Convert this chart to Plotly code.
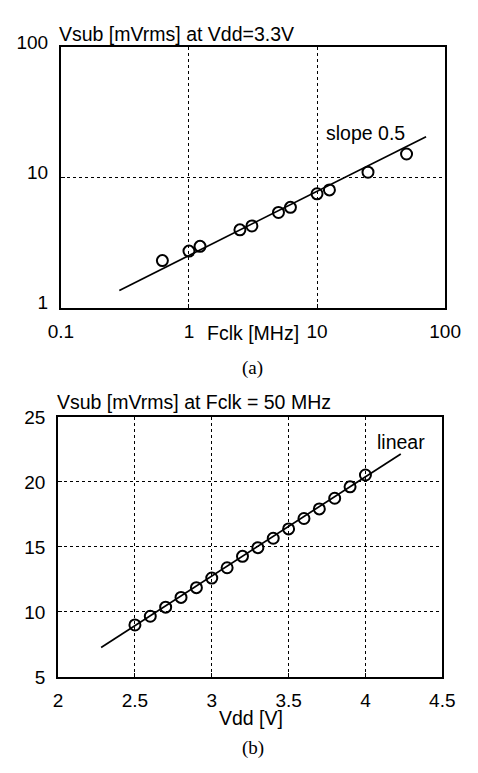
import plotly.graph_objects as go

# ---- panel (a): Vsub vs Fclk at Vdd = 3.3 V (log-log) ----
fclk_mhz = [0.62, 1.0, 1.22, 2.5, 3.1, 5.0, 6.2, 10.0, 12.5, 25.0, 50.0]
vsub_a = [2.30, 2.72, 2.96, 3.96, 4.24, 5.38, 5.89, 7.48, 8.01, 10.95, 15.1]
fit_a_x = [0.286, 71.0]
fit_a_y = [1.36, 20.5]
xticks_a = [0.1, 1, 10, 100]
xticklabels_a = ["0.1", "1", "10", "100"]
yticks_a = [1, 10, 100]
yticklabels_a = ["1", "10", "100"]

# ---- panel (b): Vsub vs Vdd at Fclk = 50 MHz ----
vdd_v = [2.5, 2.6, 2.7, 2.8, 2.9, 3.0, 3.1, 3.2, 3.3, 3.4, 3.5, 3.6, 3.7, 3.8, 3.9, 4.0]
vsub_b = [9.0, 9.67, 10.37, 11.12, 11.87, 12.61, 13.40, 14.28, 14.95, 15.67,
          16.39, 17.19, 17.93, 18.75, 19.63, 20.54]
fit_b_x = [2.28, 4.23]
fit_b_y = [7.26, 22.16]
xticks_b = [2, 2.5, 3, 3.5, 4, 4.5]
yticks_b = [5, 10, 15, 20, 25]

W, H = 478, 773
FONT = "Liberation Sans, Arial, sans-serif"
SERIF = "Liberation Serif, Times New Roman, serif"
FS = 19.5
TFS = 19

def px(x):
    return x / W

def py(y):
    return 1 - y / H

fig = go.Figure()

line_style = dict(color="black", width=1.7)
marker_style = dict(symbol="circle-open", size=11, color="black", line=dict(width=2, color="black"))

fig.add_trace(go.Scatter(x=fit_a_x, y=fit_a_y, mode="lines", line=line_style,
                         xaxis="x", yaxis="y", showlegend=False, hoverinfo="skip"))
fig.add_trace(go.Scatter(x=fclk_mhz, y=vsub_a, mode="markers", marker=marker_style,
                         xaxis="x", yaxis="y", showlegend=False))
fig.add_trace(go.Scatter(x=fit_b_x, y=fit_b_y, mode="lines", line=line_style,
                         xaxis="x2", yaxis="y2", showlegend=False, hoverinfo="skip"))
fig.add_trace(go.Scatter(x=vdd_v, y=vsub_b, mode="markers", marker=marker_style,
                         xaxis="x2", yaxis="y2", showlegend=False))

common = dict(showline=True, linecolor="black", linewidth=2, mirror=True,
              showgrid=True, gridcolor="black", gridwidth=1, griddash="dot",
              ticks="inside", ticklen=4, tickcolor="black", zeroline=False,
              tickfont=dict(family=FONT, size=TFS, color="black"))

fig.update_layout(
    width=W, height=H,
    margin=dict(l=0, r=0, t=0, b=0),
    paper_bgcolor="white", plot_bgcolor="white",
    font=dict(family=FONT, size=FS, color="black"),
    xaxis=dict(type="log", range=[-1, 2], domain=[px(51), px(460)],
               tickvals=xticks_a, ticktext=xticklabels_a, anchor="y",
               ticklabelstandoff=5, **common),
    yaxis=dict(type="log", range=[0, 2], domain=[py(303), py(33)],
               tickvals=yticks_a, ticktext=yticklabels_a, anchor="x",
               ticklabelstandoff=7, ticklabelshift=-5, **common),
    xaxis2=dict(range=[2, 4.5], domain=[px(48), px(457)], tickvals=xticks_b,
                ticktext=[f"{v:g}" for v in xticks_b], anchor="y2",
                ticklabelstandoff=5, **common),
    yaxis2=dict(range=[5, 25], domain=[py(685), py(416)], tickvals=yticks_b,
                anchor="x2", ticklabelstandoff=7, **common),
)

ann = []
ann.append(dict(text="Vsub [mVrms] at Vdd=3.3V", xref="paper", yref="paper",
                x=px(47), y=py(20), xanchor="left", yanchor="middle", showarrow=False,
                font=dict(family=FONT, size=FS)))
ann.append(dict(text="Fclk [MHz]", xref="paper", yref="paper",
                x=px(255), y=py(329), xanchor="center", yanchor="middle", showarrow=False,
                font=dict(family=FONT, size=FS)))
ann.append(dict(text="slope 0.5", xref="x", yref="y",
                x=1.054, y=1.341, xanchor="left", yanchor="middle", showarrow=False,
                font=dict(family=FONT, size=FS)))
ann.append(dict(text="(a)", xref="paper", yref="paper",
                x=px(255), y=py(365), xanchor="center", yanchor="middle", showarrow=False,
                font=dict(family=SERIF, size=TFS)))
ann.append(dict(text="Vsub [mVrms] at Fclk = 50 MHz", xref="paper", yref="paper",
                x=px(45), y=py(400), xanchor="left", yanchor="middle", showarrow=False,
                font=dict(family=FONT, size=FS)))
ann.append(dict(text="linear", xref="x2", yref="y2",
                x=4.06, y=23.1, xanchor="left", yanchor="middle", showarrow=False,
                font=dict(family=FONT, size=FS)))
ann.append(dict(text="Vdd [V]", xref="paper", yref="paper",
                x=px(253), y=py(727), xanchor="center", yanchor="middle", showarrow=False,
                font=dict(family=FONT, size=FS)))
ann.append(dict(text="(b)", xref="paper", yref="paper",
                x=px(255), y=py(759), xanchor="center", yanchor="middle", showarrow=False,
                font=dict(family=SERIF, size=TFS)))
fig.update_layout(annotations=ann)

fig.write_html("out.html")
